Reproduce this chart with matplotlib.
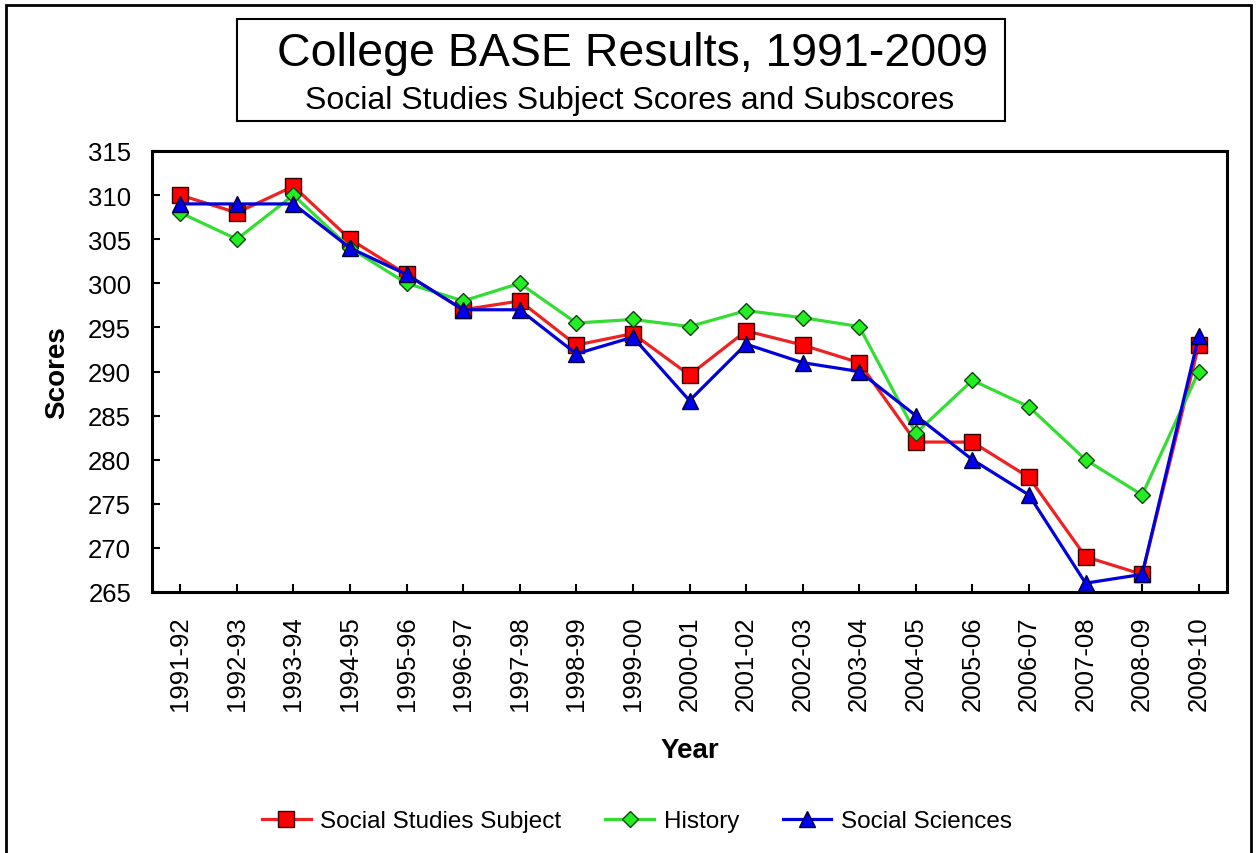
import numpy as np
import matplotlib.pyplot as plt
from matplotlib.patches import Rectangle

plt.rcParams['font.family'] = ['Liberation Sans', 'DejaVu Sans']

years = ['1991-92', '1992-93', '1993-94', '1994-95', '1995-96', '1996-97',
         '1997-98', '1998-99', '1999-00', '2000-01', '2001-02', '2002-03',
         '2003-04', '2004-05', '2005-06', '2006-07', '2007-08', '2008-09',
         '2009-10']

social_studies = [310, 308, 311, 305, 301, 297, 298, 293, 294.3, 289.6, 294.6,
                  293, 291, 282, 282, 278, 269, 267, 293]
history = [308, 305, 310, 304, 300, 298, 300, 295.5, 295.9, 295.1, 296.9,
           296.1, 295.1, 283, 289, 286, 280, 276, 290]
social_sciences = [309, 309, 309, 304, 301, 297, 297, 292, 293.9, 286.7, 293.1,
                   291, 290, 285, 280, 276, 266, 267, 294]

fig = plt.figure(figsize=(12.57, 8.54), dpi=100)
ax = fig.add_axes([152 / 1257, 1 - 593 / 854, (1227 - 152) / 1257, (593 - 152) / 854])

x = np.arange(len(years))

# Series
ax.plot(x, social_studies, color='#EE2222', linewidth=2.3, marker='s', markersize=11,
        markerfacecolor='#FF0000', markeredgecolor='#330000', markeredgewidth=1,
        label='Social Studies Subject', zorder=3)
ax.plot(x, history, color='#33DD33', linewidth=2.3, marker='D', markersize=8.5,
        markerfacecolor='#22EE22', markeredgecolor='#114411', markeredgewidth=1,
        label='History', zorder=4)
ax.plot(x, social_sciences, color='#0000DD', linewidth=2.3, marker='^', markersize=11,
        markerfacecolor='#0000EE', markeredgecolor='#000033', markeredgewidth=1,
        label='Social Sciences', zorder=5)

ax.set_xlim(-0.5, len(years) - 0.5)
ax.set_ylim(265, 315)
ax.set_yticks(np.arange(265, 316, 5))
ax.set_xticks(x)
ax.set_xticklabels(years, rotation=90)

ax.tick_params(direction='in', length=6, width=1.5, labelsize=18.5)
ax.tick_params(axis='y', pad=15)
ax.tick_params(axis='x', pad=17)
for s in ax.spines.values():
    s.set_linewidth(2.2)

ax.set_xlabel('Year', fontsize=20, fontweight='bold')
ax.set_ylabel('Scores', fontsize=20, fontweight='bold')
ax.xaxis.set_label_coords(0.5, (593 - 738) / 441)
ax.yaxis.set_label_coords((70 - 152) / 1075, 0.5)

# Title box
fig.patches.append(Rectangle((237 / 1257, 1 - 122 / 854), (1005 - 237) / 1257,
                             (122 - 20) / 854, transform=fig.transFigure,
                             fill=False, edgecolor='black', linewidth=1.5))
fig.text(633 / 1257, 1 - 54 / 854, 'College BASE Results, 1991-2009',
         ha='center', va='center', fontsize=33.5)
fig.text(630 / 1257, 1 - 101 / 854, 'Social Studies Subject Scores and Subscores',
         ha='center', va='center', fontsize=23)

# Outer frame
fig.patches.append(Rectangle((6 / 1257, -0.05), (1251 - 6) / 1257, 1.05 - 6 / 854,
                             transform=fig.transFigure, fill=False,
                             edgecolor='black', linewidth=2, clip_on=False))

fig.legend(loc='center', bbox_to_anchor=(637 / 1257, 1 - 822 / 854), ncol=3,
           frameon=False, fontsize=17.5, handlelength=2.0, columnspacing=1.8,
           handletextpad=0.4)

fig.savefig('out.png', dpi=100)
